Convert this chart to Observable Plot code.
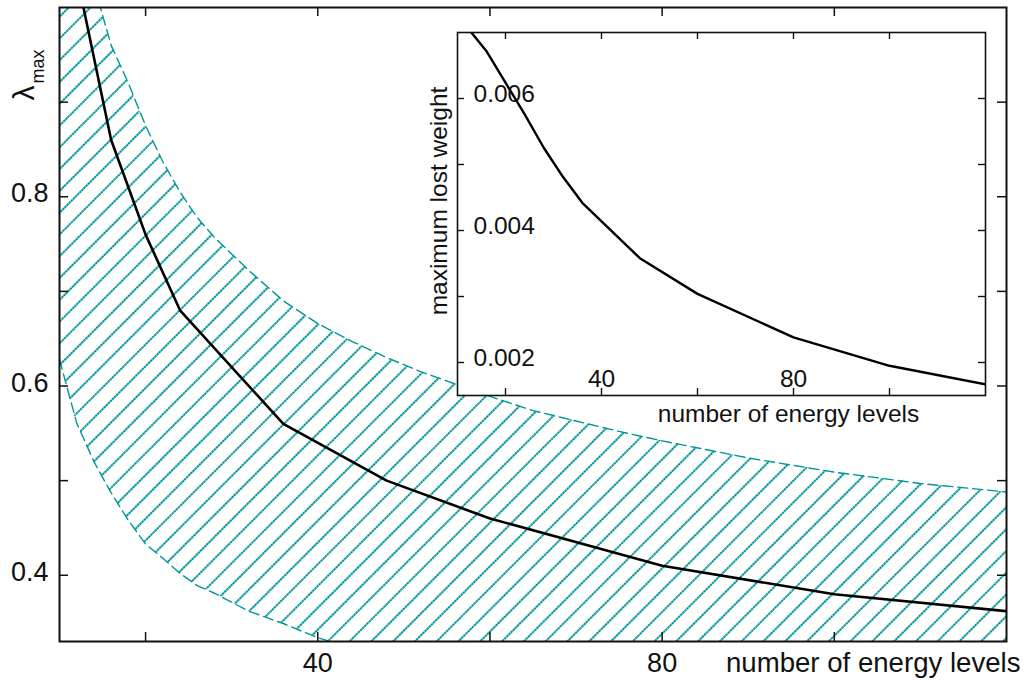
<!DOCTYPE html>
<html><head><meta charset="utf-8">
<script src="https://cdn.jsdelivr.net/npm/d3@7"></script>
<script src="https://cdn.jsdelivr.net/npm/@observablehq/plot@0.6"></script>
<style>
body{margin:0;background:#fff;}
#wrap{position:relative;width:1031px;height:680px;}
#wrap svg{position:absolute;left:0;top:0;}
</style></head><body><div id="wrap"></div>
<script>
// Main curve: lambda_max vs number of energy levels
const levels = [12, 16, 20, 24, 36, 48, 60, 80, 100, 120];
const lambdaMax = [1.034, 0.86, 0.76, 0.68, 0.56, 0.50, 0.46, 0.41, 0.38, 0.362];

// Hatched band (upper / lower dashed boundaries)
const bandX = [10, 12, 14, 16, 18, 20, 22, 24, 26, 28, 32, 36, 40, 44, 48, 52, 56, 60, 65, 70, 75, 80, 90, 100, 110, 120];
const bandUpper = [1.16, 1.09, 1.024, 0.960, 0.920, 0.875, 0.837, 0.805, 0.778, 0.757, 0.722, 0.690, 0.666, 0.647, 0.630, 0.615, 0.602, 0.589, 0.574, 0.563, 0.552, 0.542, 0.524, 0.509, 0.497, 0.488];
const bandLower = [0.628, 0.561, 0.520, 0.487, 0.458, 0.433, 0.418, 0.402, 0.389, 0.381, 0.362, 0.349, 0.334, 0.323, 0.313, 0.305, 0.298, 0.292, 0.286, 0.280, 0.276, 0.272, 0.265, 0.259, 0.254, 0.250];

// Inset: maximum lost weight
const insetLevels = [12, 16, 20, 24, 28, 32, 36, 48, 60, 80, 100, 120];
const lostWeight = [0.00708, 0.00672, 0.00624, 0.00576, 0.00525, 0.00481, 0.00442, 0.00358, 0.00304, 0.00238, 0.00195, 0.00167];

// Ticks and labels
const mainXTicks = [20, 40, 60, 80, 100];
const mainXLabels = [40, 80];
const mainYTicks = [0.4, 0.5, 0.6, 0.7, 0.8, 0.9];
const mainYLabels = [0.4, 0.6, 0.8];
const insetXTicks = [20, 40, 60, 80, 100];
const insetXLabels = [40, 80];
const insetYTicks = [0.002, 0.003, 0.004, 0.005, 0.006];
const insetYLabels = [0.002, 0.004, 0.006];
const xTitle = "number of energy levels";
const insetYTitle = "maximum lost weight";

const teal = "#009696";
const ink = "#111";
const font = "'Liberation Sans', Arial, sans-serif";

const band = bandX.map((x, i) => ({x, lo: bandLower[i], hi: bandUpper[i]}));
const curve = levels.map((x, i) => ({x, y: lambdaMax[i]}));
const inset = insetLevels.map((x, i) => ({x, y: lostWeight[i]}));

const W = 1031, H = 680;
const mM = {l: 59, r: 25, t: 7, b: 39};
const mFW = W - mM.l - mM.r, mFH = H - mM.t - mM.b;
const mTick = 9;

const mainPlot = Plot.plot({
  width: W, height: H,
  marginLeft: mM.l, marginRight: mM.r, marginTop: mM.t, marginBottom: mM.b,
  style: {fontFamily: font, fontSize: "27px", background: "white", color: ink},
  x: {domain: [10, 120]},
  y: {domain: [0.33, 1.0]},
  marks: [
    Plot.areaY(band, {x: "x", y1: "lo", y2: "hi", fill: "url(#hatch)", clip: true}),
    Plot.line(band, {x: "x", y: "hi", stroke: teal, strokeWidth: 1.4, strokeDasharray: "10,5", clip: true}),
    Plot.line(band, {x: "x", y: "lo", stroke: teal, strokeWidth: 1.4, strokeDasharray: "10,5", clip: true}),
    Plot.line(curve, {x: "x", y: "y", stroke: "#000", strokeWidth: 2.6, clip: true}),
    Plot.tickX(mainXTicks, {x: d => d, insetTop: mFH - mTick, stroke: ink, strokeWidth: 1.5}),
    Plot.tickX(mainXTicks, {x: d => d, insetBottom: mFH - mTick, stroke: ink, strokeWidth: 1.5}),
    Plot.tickY(mainYTicks, {y: d => d, insetRight: mFW - mTick, stroke: ink, strokeWidth: 1.5}),
    Plot.tickY(mainYTicks, {y: d => d, insetLeft: mFW - mTick, stroke: ink, strokeWidth: 1.5}),
    Plot.axisX({ticks: mainXLabels, tickSize: 0, tickPadding: 11, label: null, tickFormat: d => `${d}`}),
    Plot.axisY({ticks: mainYLabels, tickSize: 0, tickPadding: 11, label: null, dy: -3, tickFormat: d => d.toFixed(1)}),
    Plot.text([xTitle], {text: d => d, frameAnchor: "bottom-right", textAnchor: "end", lineAnchor: "top", dx: 14, dy: 11, fontSize: 27.6}),
    Plot.text(["λ"], {text: d => d, frameAnchor: "top-left", rotate: -90, textAnchor: "start", lineAnchor: "bottom", dx: -26, dy: 93, fontSize: 30}),
    Plot.text(["max"], {text: d => d, frameAnchor: "top-left", rotate: -90, textAnchor: "start", lineAnchor: "bottom", dx: -16, dy: 76, fontSize: 18}),
    Plot.frame({stroke: ink, strokeWidth: 2})
  ]
});

// hatch pattern for the band fill
const defs = d3.select(mainPlot).insert("defs", ":first-child");
const pat = defs.append("pattern")
  .attr("id", "hatch")
  .attr("patternUnits", "userSpaceOnUse")
  .attr("width", 15.4).attr("height", 12)
  .attr("patternTransform", "rotate(45)");
pat.append("line")
  .attr("x1", 7.7).attr("x2", 7.7).attr("y1", 0).attr("y2", 12)
  .attr("stroke", teal).attr("stroke-width", 2)
  .attr("stroke-dasharray", "2.4,0.6");

const iM = {l: 457, r: 46, t: 32, b: 285};
const iFW = W - iM.l - iM.r, iFH = H - iM.t - iM.b;
const iTick = 7;

const insetPlot = Plot.plot({
  width: W, height: H,
  marginLeft: iM.l, marginRight: iM.r, marginTop: iM.t, marginBottom: iM.b,
  style: {fontFamily: font, fontSize: "24.5px", background: "transparent", color: ink},
  x: {domain: [10, 120], axis: null},
  y: {domain: [0.0015, 0.007], axis: null},
  marks: [
    Plot.frame({fill: "white", stroke: "none"}),
    Plot.line(inset, {x: "x", y: "y", stroke: "#000", strokeWidth: 2.4, clip: true}),
    Plot.tickX(insetXTicks, {x: d => d, insetTop: iFH - iTick, stroke: ink, strokeWidth: 1.4}),
    Plot.tickX(insetXTicks, {x: d => d, insetBottom: iFH - iTick, stroke: ink, strokeWidth: 1.4}),
    Plot.tickY(insetYTicks, {y: d => d, insetRight: iFW - iTick, stroke: ink, strokeWidth: 1.4}),
    Plot.tickY(insetYTicks, {y: d => d, insetLeft: iFW - iTick, stroke: ink, strokeWidth: 1.4}),
    Plot.text(insetXLabels, {x: d => d, text: d => `${d}`, frameAnchor: "bottom", lineAnchor: "bottom", dy: -9}),
    Plot.text(insetYLabels, {y: d => d, text: d => d.toFixed(3), frameAnchor: "left", textAnchor: "start", dx: 16, dy: -4}),
    Plot.text([xTitle], {text: d => d, frameAnchor: "bottom", textAnchor: "middle", lineAnchor: "bottom", dx: 67, dy: 26}),
    Plot.text([insetYTitle], {text: d => d, frameAnchor: "left", textAnchor: "middle", rotate: -90, lineAnchor: "bottom", dx: -11, dy: -13}),
    Plot.frame({stroke: ink, strokeWidth: 1.6})
  ]
});

const wrap = document.getElementById("wrap");
wrap.appendChild(mainPlot);
wrap.appendChild(insetPlot);
</script>
</body></html>
